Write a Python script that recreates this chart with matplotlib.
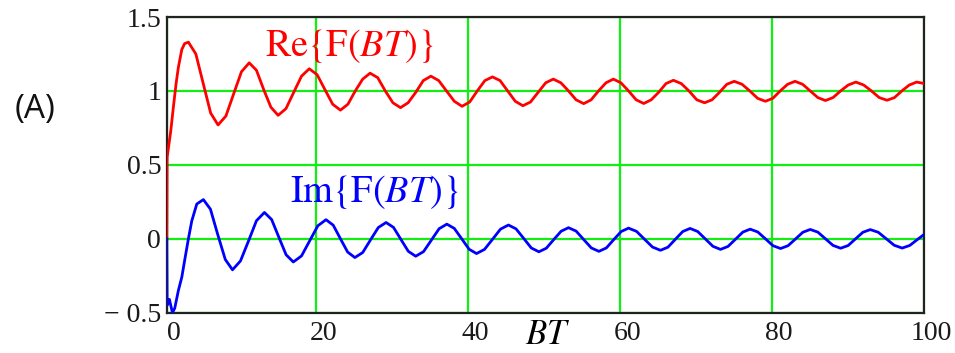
import matplotlib
matplotlib.use("Agg")
import matplotlib.pyplot as plt
from matplotlib.transforms import ScaledTranslation

# Re{F(BT)}
re_x = [0.36, 0.40, 0.88, 1.22, 1.58, 1.88, 2.33, 2.70, 3.20,
        4.18, 5.15, 6.13, 7.10, 8.13, 9.15, 10.18, 11.20,
        12.15, 13.10, 14.05, 15.00, 16.03, 17.05, 18.08, 19.10,
        20.13, 21.15, 22.18, 23.20, 24.18, 25.15, 26.13, 27.10,
        28.10, 29.10, 30.10, 31.10, 32.10, 33.10, 34.10, 35.10,
        36.13, 37.15, 38.18, 39.20, 40.20, 41.20, 42.20, 43.20,
        44.20, 45.20, 46.20, 47.20, 48.20, 49.20, 50.20, 51.20,
        52.20, 53.20, 54.20, 55.20, 56.18, 57.15, 58.13, 59.10,
        60.10, 61.10, 62.10, 63.10, 64.08, 65.05, 66.03, 67.00,
        68.03, 69.05, 70.08, 71.10, 72.08, 73.05, 74.03, 75.00,
        76.03, 77.05, 78.08, 79.10, 80.08, 81.05, 82.03, 83.00,
        84.00, 85.00, 86.00, 87.00, 88.00, 89.00, 90.00, 91.00,
        92.03, 93.05, 94.08, 95.10, 96.08, 97.05, 98.03, 99.00, 100.0]
re_y = [0.00, 0.55, 0.73, 0.89, 1.05, 1.16, 1.28, 1.32, 1.33,
        1.25, 1.05, 0.85, 0.77, 0.83, 0.98, 1.13, 1.19,
        1.14, 1.01, 0.89, 0.835, 0.88, 0.99, 1.10, 1.15,
        1.11, 1.01, 0.91, 0.87, 0.91, 1.00, 1.08, 1.12,
        1.09, 1.00, 0.92, 0.887, 0.92, 0.99, 1.07, 1.10,
        1.07, 1.00, 0.93, 0.896, 0.925, 1.00, 1.07, 1.095,
        1.07, 1.00, 0.93, 0.90, 0.925, 0.99, 1.055, 1.08,
        1.055, 1.00, 0.94, 0.914, 0.94, 1.00, 1.055, 1.08,
        1.055, 1.00, 0.94, 0.915, 0.94, 0.99, 1.05, 1.072,
        1.05, 1.00, 0.94, 0.92, 0.94, 0.99, 1.045, 1.065,
        1.045, 1.00, 0.95, 0.93, 0.95, 1.00, 1.045, 1.065,
        1.045, 1.00, 0.955, 0.935, 0.955, 1.00, 1.04, 1.06,
        1.04, 1.00, 0.955, 0.937, 0.955, 1.00, 1.04, 1.06, 1.05]

# Im{F(BT)}
im_x = [0.36, 0.40, 0.70, 1.10, 1.40, 1.88, 2.33, 2.76, 3.20, 3.64,
        4.30, 5.17, 6.10, 7.05, 8.05, 9.00, 10.05, 11.10, 12.15, 13.20,
        14.15, 15.10, 16.05, 17.00, 18.08, 19.15, 20.23, 21.30,
        22.25, 23.20, 24.15, 25.10, 26.13, 27.15, 28.18, 29.20,
        30.18, 31.15, 32.13, 33.10, 34.13, 35.15, 36.18, 37.20,
        38.18, 39.15, 40.13, 41.10, 42.15, 43.20, 44.25, 45.30,
        46.30, 47.30, 48.30, 49.30, 50.28, 51.25, 52.23, 53.20,
        54.20, 55.20, 56.20, 57.20, 58.18, 59.15, 60.13, 61.10,
        62.15, 63.20, 64.25, 65.30, 66.28, 67.25, 68.23, 69.20,
        70.20, 71.20, 72.20, 73.20, 74.18, 75.15, 76.13, 77.10,
        78.10, 79.10, 80.10, 81.10, 82.08, 83.05, 84.03, 85.00,
        86.00, 87.00, 88.00, 89.00, 89.98, 90.95, 91.93, 92.90,
        93.95, 95.00, 96.05, 97.10, 98.10, 99.10, 100.0]
im_y = [0.00, -0.45, -0.41, -0.50, -0.47, -0.35, -0.26, -0.13, 0.00, 0.12,
        0.235, 0.265, 0.20, 0.03, -0.14, -0.21, -0.15, -0.016, 0.122, 0.178,
        0.13, 0.01, -0.108, -0.157, -0.116, -0.014, 0.088, 0.129,
        0.092, 0.00, -0.09, -0.127, -0.093, -0.008, 0.076, 0.11,
        0.077, -0.004, -0.085, -0.118, -0.087, -0.01, 0.068, 0.099,
        0.07, 0.00, -0.071, -0.10, -0.072, -0.004, 0.065, 0.093,
        0.067, 0.003, -0.062, -0.088, -0.064, -0.006, 0.051, 0.075,
        0.052, -0.005, -0.062, -0.085, -0.062, -0.006, 0.049, 0.072,
        0.05, -0.003, -0.056, -0.078, -0.057, -0.004, 0.049, 0.07,
        0.049, -0.001, -0.051, -0.072, -0.052, -0.004, 0.045, 0.065,
        0.046, 0.00, -0.047, -0.066, -0.047, -0.002, 0.044, 0.063,
        0.045, 0.00, -0.045, -0.064, -0.046, -0.001, 0.044, 0.062,
        0.044, 0.00, -0.044, -0.063, -0.045, -0.005, 0.03]

x_ticks = [0.35, 20, 40, 60, 80, 100]
x_ticklabels = ["0", "20", "40", "60", "80", "100"]
y_ticks = [-0.5, 0, 0.5, 1, 1.5]
y_ticklabels = ["\u2212 0.5", "0", "0.5", "1", "1.5"]

plt.rcParams["mathtext.fontset"] = "stix"

fig = plt.figure(figsize=(9.55, 3.53), dpi=100)
ax = fig.add_axes([0.1746, 0.1142, 0.7932, 0.8376])

ax.plot(re_x, re_y, color="#ff0000", lw=2.0, solid_joinstyle="round", zorder=3)
ax.plot(im_x, im_y, color="#0000ff", lw=2.0, solid_joinstyle="round", zorder=3)

ax.set_xlim(0.35, 100)
ax.set_ylim(-0.5, 1.5)
ax.set_xticks(x_ticks)
ax.set_xticklabels(x_ticklabels, family="Liberation Serif", fontsize=20, color="#1a1a1a")
ax.set_yticks(y_ticks)
ax.set_yticklabels(y_ticklabels, family="Liberation Serif", fontsize=20, color="#1a1a1a")
ax.tick_params(length=0, pad=4)
ax.tick_params(axis="x", pad=6)
ax.grid(True, color="#11ee11", lw=1.6)
ax.set_axisbelow(True)
for s in ax.spines.values():
    s.set_color("#222222")
    s.set_linewidth(1.6)

# labels sit a little right of their grid lines in the original
shift = ScaledTranslation(7 / 100, 0, fig.dpi_scale_trans)
for lab in ax.get_xticklabels():
    lab.set_transform(lab.get_transform() + shift)

ax.set_xlabel("$BT$", fontsize=25)
ax.xaxis.set_label_coords(0.503, -0.072)
ax.xaxis.label.set_va("center")

ax.text(13.3, 1.236, r"$\mathrm{Re}\{\mathrm{F}(BT)\}$", color="#ff0000",
        fontsize=27.5, va="baseline", ha="left")
ax.text(16.6, 0.25, r"$\mathrm{Im}\{\mathrm{F}(BT)\}$", color="#0000ff",
        fontsize=27.5, va="baseline", ha="left")

fig.text(35 / 955, 1 - 110 / 353, "(A)", family="Open Sans", fontsize=24,
         ha="center", va="center", color="#111111")

fig.savefig("out.png", dpi=100)
